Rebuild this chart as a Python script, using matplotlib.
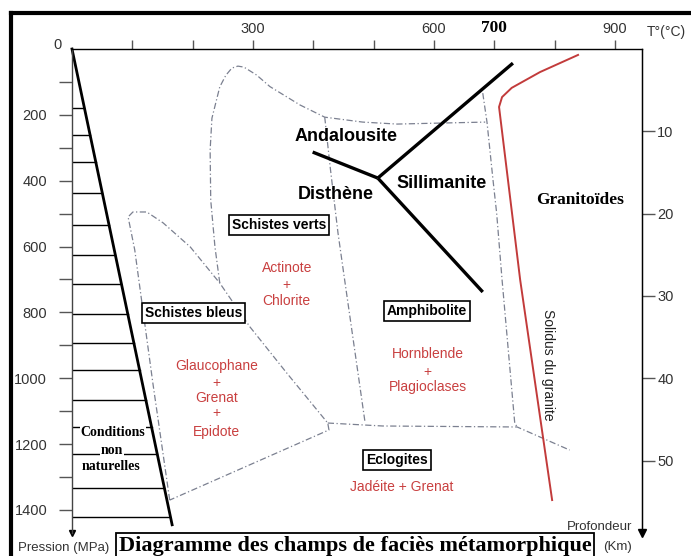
import matplotlib.pyplot as plt
from matplotlib.lines import Line2D

plt.rcParams['font.family'] = ['Liberation Sans', 'DejaVu Sans']

# temperature (°C) / pressure (MPa) points
blue_T = [162, 134, 104, 93, 101, 124, 151, 196, 245, 295, 356, 424, 426, 162]
blue_P = [1370, 1014, 610, 510, 495, 495, 528, 601, 711, 844, 984, 1136, 1157, 1370]

green_T = [245, 237, 230, 229, 232, 245, 255, 265, 275, 285, 306, 328, 378, 419, 482, 539, 610, 685]
green_P = [711, 601, 459, 307, 210, 115, 80, 58, 52, 55, 79, 114, 170, 207, 222, 228, 225, 222]

amph_T = [681, 688, 698, 704, 713, 734, 738]
amph_P = [134, 222, 398, 498, 701, 1136, 1148]

mid_T = [419, 428, 441, 452, 486]
mid_P = [207, 358, 559, 701, 1136]

base_T = [424, 515, 738, 825]
base_P = [1136, 1145, 1148, 1218]

# aluminosilicate triple point lines
and_ky_T, and_ky_P = [399, 507], [313, 392]
and_sil_T, and_sil_P = [507, 731], [392, 43]
ky_sil_T, ky_sil_P = [507, 681], [392, 738]

# granite solidus
sol_T = [839, 776, 729, 713, 708, 743, 796]
sol_P = [18, 70, 118, 146, 176, 701, 1370]

# "conditions non naturelles" limit and hatching
geo_T = [0, 166]
geo_P = [0, 1445]
hatch_P = [179, 261, 343, 437, 534, 626, 714, 805, 893, 975, 1066, 1148, 1230, 1333, 1421]

W, H = 691, 556


def px(x, y):
    # pixel position -> figure fraction
    return x / W, 1 - y / H


fig = plt.figure(figsize=(W / 100, H / 100), dpi=100)
ax = fig.add_axes([72 / W, 1 - 533 / H, (642 - 72) / W, (533 - 49) / H])
ax.set_xlim(0, 945)
ax.set_ylim(1470, 0)

dash = dict(color='#7b8090', lw=0.9, ls=(0, (5, 2, 1, 2)))
ax.plot(blue_T, blue_P, **dash)
ax.plot(green_T, green_P, **dash)
ax.plot(amph_T, amph_P, **dash)
ax.plot(mid_T, mid_P, **dash)
ax.plot(base_T, base_P, **dash)

for t, p in [(and_ky_T, and_ky_P), (and_sil_T, and_sil_P), (ky_sil_T, ky_sil_P)]:
    ax.plot(t, p, color='black', lw=2.4, solid_capstyle='butt')

ax.plot(sol_T, sol_P, color='#c23b3b', lw=1.4)

# hatched unnatural zone
ax.plot(geo_T, geo_P, color='black', lw=2, clip_on=False)
for p in hatch_P:
    ax.plot([0, geo_T[1] * p / geo_P[1]], [p, p], color='black', lw=1)

# axes styling
for s in ['top', 'left', 'right']:
    ax.spines[s].set_linewidth(1)
ax.spines['bottom'].set_visible(False)
ax.spines['left'].set_color('#444444')

ax.xaxis.set_ticks_position('top')
xt = list(range(100, 1000, 100))
ax.set_xticks(xt, labels=['', '', '300', '', '', '600', '700', '', '900'])
ax.tick_params(axis='x', direction='out', length=6.5, width=1, color='#555555',
               pad=3, labelsize=10.5, labelcolor='#333333')
ax.get_xticklabels()[6].set(fontfamily='Liberation Serif', fontweight='bold',
                            fontsize=12.5, color='black')

yt = list(range(100, 1500, 100))
ax.set_yticks(yt, labels=[str(v) if v % 200 == 0 else '' for v in yt])
ax.tick_params(axis='y', direction='out', length=9.4, width=1, color='#555555',
               pad=8.5, labelsize=10.5, labelcolor='#333333')

sec = ax.secondary_yaxis('right', functions=(lambda p: p / 25, lambda d: d * 25))
sec.set_yticks([10, 20, 30, 40, 50])
sec.tick_params(direction='out', length=9, width=1, color='#555555', pad=2,
                labelsize=10.5, labelcolor='#333333')

ax.plot([0], [1470], marker='v', color='black', ms=5, clip_on=False)
ax.plot([945], [1470], marker='v', color='black', ms=6, clip_on=False)

# field names
bold = dict(fontsize=13, fontweight='bold', ha='center', va='center')
ax.text(454, 267, 'Andalousite', **bold)
ax.text(438, 443, 'Disthène', **bold)
ax.text(613, 410, 'Sillimanite', **bold)
ax.text(842, 459, 'Granitoïdes', fontsize=12.5, fontweight='bold', ha='center',
        va='center', fontfamily='Liberation Serif')

boxed = dict(fontsize=10, fontweight='bold', ha='center', va='center',
             bbox=dict(boxstyle='square,pad=0.2', fc='white', ec='black', lw=1.2))
ax.text(343, 534, 'Schistes verts', **boxed)
ax.text(201, 802, 'Schistes bleus', **boxed)
ax.text(588, 796, 'Amphibolite', **boxed)
ax.text(539, 1248, 'Eclogites', **boxed)

red = dict(fontsize=10, color='#c94040', ha='center', va='center')
for txt, p in [('Actinote', 665), ('+', 717), ('Chlorite', 765)]:
    ax.text(356, p, txt, **red)
for txt, p in [('Glaucophane', 963), ('+', 1014), ('Grenat', 1060), ('+', 1105), ('Epidote', 1163)]:
    ax.text(240, p, txt, **red)
for txt, p in [('Hornblende', 926), ('+', 981), ('Plagioclases', 1026)]:
    ax.text(590, p, txt, **red)
ax.text(547, 1330, 'Jadéite + Grenat', **red)

ax.text(789, 960, 'Solidus du granite', fontsize=10, rotation=270, ha='center',
        va='center', color='#222222')

serif = dict(fontsize=10, fontweight='bold', ha='center', va='center',
             fontfamily='Liberation Serif',
             bbox=dict(boxstyle='square,pad=0.05', fc='white', ec='none'))
ax.text(68, 1166, 'Conditions', **serif)
ax.text(66, 1218, 'non', **serif)
ax.text(64, 1269, 'naturelles', **serif)

# outer labels
fig.text(*px(57, 45), '0', fontsize=10.5, color='#333333', ha='center', va='center')
fig.text(*px(666, 32), 'T°(°C)', fontsize=10, color='#333333', ha='center', va='center')
fig.text(*px(64, 548), 'Pression (MPa)', fontsize=9.5, color='#333333', ha='center', va='center')
fig.text(*px(600, 527), 'Profondeur', fontsize=9.5, color='#333333', ha='center', va='center')
fig.text(*px(617, 547), '(Km)', fontsize=9.5, color='#333333', ha='center', va='center')

fig.text(*px(355, 546), 'Diagramme des champs de faciès métamorphique', fontsize=16,
         fontweight='bold', fontfamily='Liberation Serif', ha='center', va='center',
         bbox=dict(boxstyle='square,pad=0.12', fc='white', ec='black', lw=1.3))

# frame around the picture
fig.add_artist(Line2D([11 / W, 11 / W], [0, 1 - 13 / H], transform=fig.transFigure,
                      color='black', lw=3))
fig.add_artist(Line2D([11 / W, 1], [1 - 13 / H, 1 - 13 / H], transform=fig.transFigure,
                      color='black', lw=3))

fig.savefig('out.png', dpi=100)
